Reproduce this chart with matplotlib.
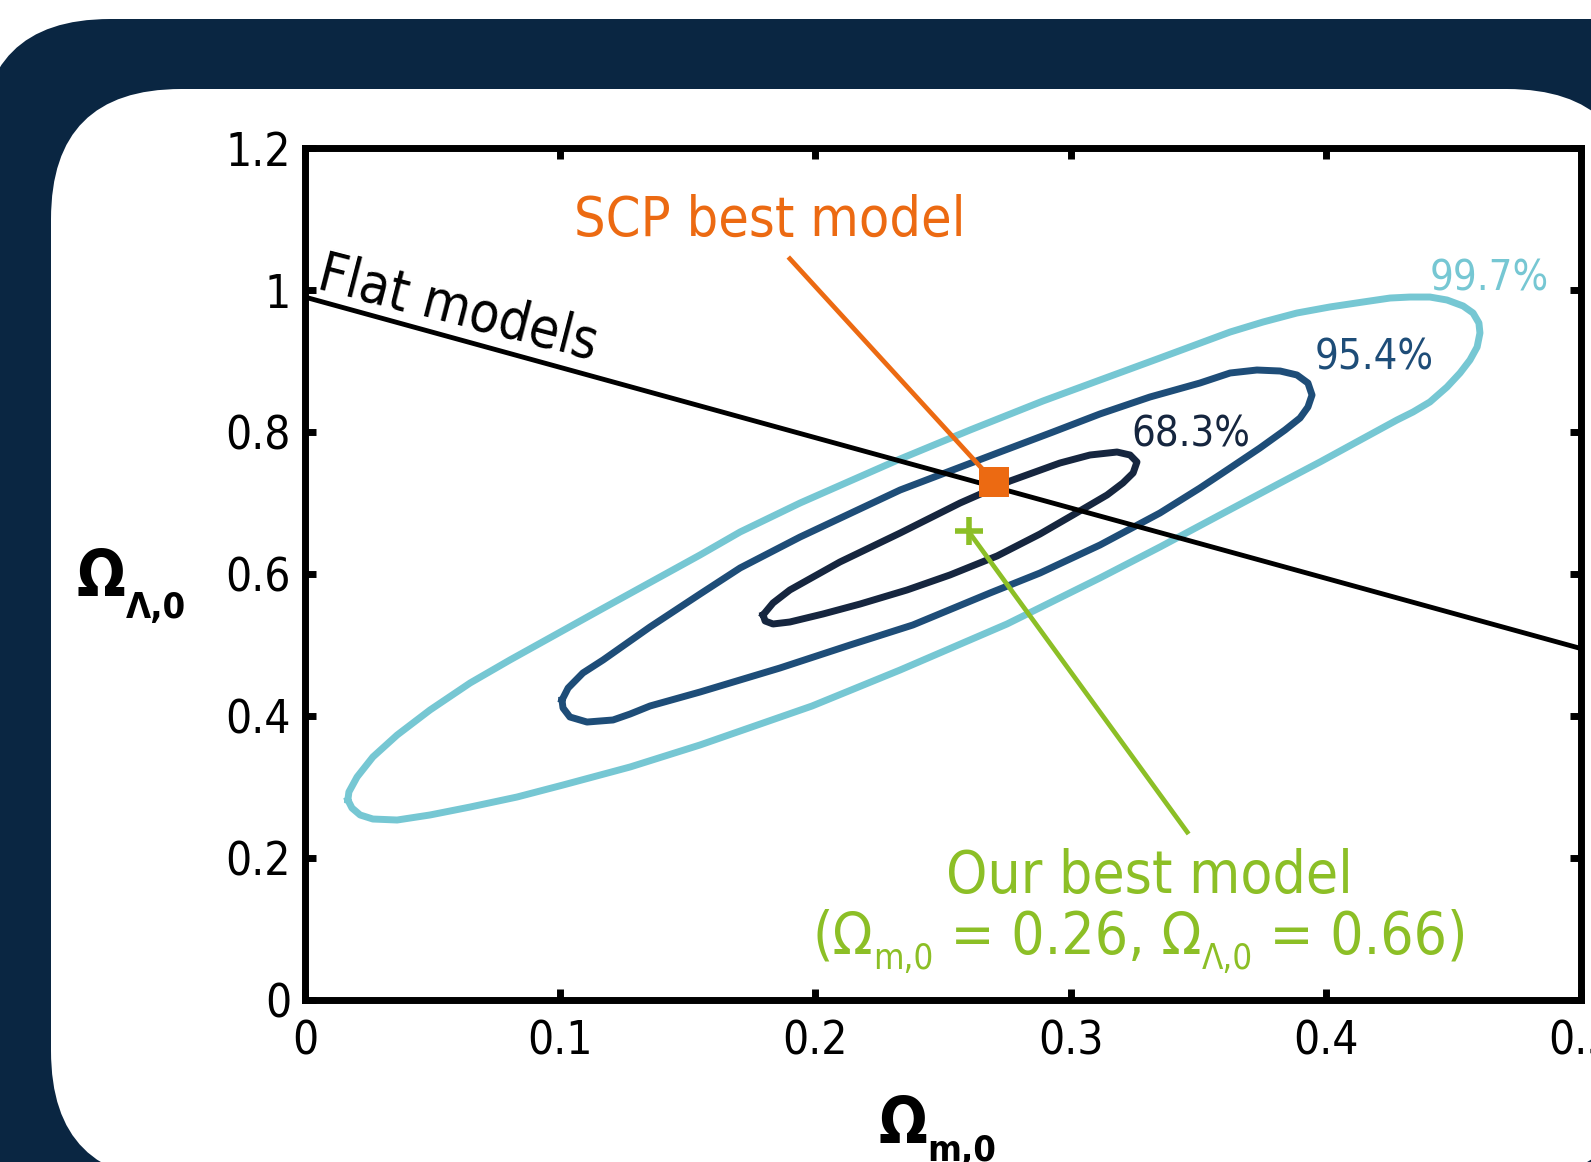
import os
import matplotlib
matplotlib.use('Agg')
import matplotlib.pyplot as plt
from matplotlib import font_manager as fm
from matplotlib.patches import FancyBboxPatch
from matplotlib.transforms import IdentityTransform

# confidence contours in the (Omega_m,0 , Omega_Lambda,0) plane
c683_m = [0.1795, 0.1834, 0.1900, 0.2096, 0.2332, 0.2567, 0.2763, 0.2958, 0.3076,
          0.3182, 0.3233, 0.3260, 0.3245, 0.3205, 0.3143, 0.3009, 0.2880, 0.2712,
          0.2527, 0.2359, 0.2175, 0.2030, 0.1900, 0.1834, 0.1803]
c683_l = [0.5423, 0.5592, 0.5775, 0.6169, 0.6577, 0.7000, 0.7310, 0.7563, 0.7676,
          0.7718, 0.7676, 0.7577, 0.7423, 0.7282, 0.7113, 0.6831, 0.6563, 0.6254,
          0.5986, 0.5775, 0.5577, 0.5437, 0.5324, 0.5296, 0.5338]

c954_m = [0.1007, 0.1031, 0.1089, 0.1168, 0.1352, 0.1548, 0.1705, 0.1940, 0.2332,
          0.2723, 0.2931, 0.3115, 0.3311, 0.3507, 0.3625, 0.3730, 0.3821, 0.3887,
          0.3930, 0.3946, 0.3930, 0.3899, 0.3840, 0.3742, 0.3625, 0.3507, 0.3350,
          0.3115, 0.2880, 0.2684, 0.2382, 0.2136, 0.1861, 0.1548, 0.1352, 0.1274,
          0.1207, 0.1105, 0.1038, 0.1011]
c954_l = [0.4225, 0.4394, 0.4606, 0.4789, 0.5254, 0.5718, 0.6085, 0.6521, 0.7183,
          0.7718, 0.8000, 0.8254, 0.8493, 0.8690, 0.8831, 0.8873, 0.8859, 0.8803,
          0.8690, 0.8521, 0.8352, 0.8197, 0.8028, 0.7775, 0.7493, 0.7211, 0.6859,
          0.6408, 0.6014, 0.5732, 0.5282, 0.5000, 0.4676, 0.4338, 0.4141, 0.4028,
          0.3944, 0.3915, 0.3986, 0.4113]

c997_m = [0.0168, 0.0172, 0.0204, 0.0266, 0.0361, 0.0490, 0.0647, 0.0803, 0.1156,
          0.1548, 0.1705, 0.1940, 0.2332, 0.2606, 0.2892, 0.3115, 0.3350, 0.3625,
          0.3754, 0.3887, 0.4016, 0.4146, 0.4252, 0.4330, 0.4408, 0.4475, 0.4538,
          0.4577, 0.4600, 0.4604, 0.4593, 0.4565, 0.4526, 0.4475, 0.4408, 0.4342,
          0.4279, 0.4135, 0.3977, 0.3821, 0.3585, 0.3350, 0.3115, 0.2751, 0.2332,
          0.1987, 0.1548, 0.1274, 0.1011, 0.0831, 0.0647, 0.0490, 0.0361, 0.0266,
          0.0216, 0.0184]
c997_l = [0.2817, 0.2930, 0.3141, 0.3423, 0.3732, 0.4085, 0.4465, 0.4789, 0.5493,
          0.6268, 0.6592, 0.7000, 0.7620, 0.8028, 0.8437, 0.8732, 0.9042, 0.9408,
          0.9549, 0.9676, 0.9761, 0.9831, 0.9887, 0.9901, 0.9901, 0.9859, 0.9775,
          0.9676, 0.9535, 0.9394, 0.9197, 0.9014, 0.8831, 0.8634, 0.8423, 0.8282,
          0.8169, 0.7887, 0.7577, 0.7282, 0.6831, 0.6380, 0.5944, 0.5296, 0.4648,
          0.4141, 0.3592, 0.3282, 0.3028, 0.2859, 0.2718, 0.2606, 0.2535, 0.2549,
          0.2606, 0.2704]

# flat universe line and best-fit points
flat_m = [0.0, 0.5]
flat_l = [0.99, 0.495]
scp_m, scp_l = 0.27, 0.73
our_m, our_l = 0.26, 0.66

x_ticks = [0, 0.1, 0.2, 0.3, 0.4, 0.5]
x_labels = ['0', '0.1', '0.2', '0.3', '0.4', '0.5']
y_ticks = [0, 0.2, 0.4, 0.6, 0.8, 1.0, 1.2]
y_labels = ['0', '0.2', '0.4', '0.6', '0.8', '1', '1.2']

NAVY = '#0a2642'
C683 = '#16263f'
C954 = '#1e4d78'
C997 = '#76c7d3'
ORANGE = '#ec6a12'
GREEN = '#8cbf26'

# use the condensed DejaVu cut when it is installed
cond = {}
for f in fm.fontManager.ttflist:
    base = os.path.basename(f.fname)
    if base == 'DejaVuSansCondensed.ttf':
        cond['normal'] = f.fname
    elif base == 'DejaVuSansCondensed-Bold.ttf':
        cond['bold'] = f.fname


def fp(size, weight='normal'):
    if weight in cond:
        return fm.FontProperties(fname=cond[weight], size=size)
    return fm.FontProperties(family='DejaVu Sans', weight=weight, size=size)


W, H = 1591, 1162
fig = plt.figure(figsize=(W / 100, H / 100), dpi=100)
fig.patch.set_facecolor('white')

# navy frame with a rounded white panel
frame = FancyBboxPatch((-20, -300), 2000, H - 19 + 300,
                       boxstyle='round,pad=0,rounding_size=130',
                       transform=IdentityTransform(), facecolor=NAVY,
                       edgecolor='none', zorder=-20)
panel = FancyBboxPatch((51, H - 1181), 1586, 1092,
                       boxstyle='round,pad=0,rounding_size=130',
                       transform=IdentityTransform(), facecolor='white',
                       edgecolor='none', zorder=-10)
fig.add_artist(frame)
fig.add_artist(panel)

ax = fig.add_axes([305 / W, 162 / H, 1276 / W, 852 / H])
ax.set_xlim(0, 0.5)
ax.set_ylim(0, 1.2)

for m, l, c in [(c997_m, c997_l, C997), (c954_m, c954_l, C954), (c683_m, c683_l, C683)]:
    ax.plot(m + m[:1], l + l[:1], color=c, lw=5, solid_joinstyle='round', zorder=2)

ax.plot(flat_m, flat_l, color='black', lw=3.5, zorder=3)

# pointers to the two best models
ax.plot([0.19, scp_m], [1.044, scp_l], color=ORANGE, lw=3.4, zorder=4)
ax.plot([our_m, 0.3457], [our_l, 0.2365], color=GREEN, lw=3.4, zorder=4)
ax.plot(scp_m, scp_l, 's', ms=21, color=ORANGE, mew=0, zorder=5)
ax.plot(our_m, our_l, '+', ms=19.5, color=GREEN, mew=4, zorder=5)

ax.set_xticks(x_ticks)
ax.set_xticklabels(x_labels, fontproperties=fp(33))
ax.set_yticks(y_ticks)
ax.set_yticklabels(y_labels, fontproperties=fp(33))
ax.tick_params(direction='in', length=8, width=5, top=True, right=True)
ax.tick_params(axis='x', pad=14)
ax.tick_params(axis='y', pad=10)
for sp in ax.spines.values():
    sp.set_linewidth(5)

ax.text(0.464, 1.0, '99.7%', color=C997, ha='center', va='baseline', fontproperties=fp(30))
ax.text(0.419, 0.888, '95.4%', color=C954, ha='center', va='baseline', fontproperties=fp(30))
ax.text(0.347, 0.780, '68.3%', color=C683, ha='center', va='baseline', fontproperties=fp(30))

ax.text(0.004, 1.003, 'Flat models', rotation=-14.5, rotation_mode='anchor',
        ha='left', va='baseline', fontproperties=fp(39.5))
ax.text(0.182, 1.077, 'SCP best model', color=ORANGE, ha='center', va='baseline',
        fontproperties=fp(40))
ax.text(0.331, 0.151, 'Our best model', color=GREEN, ha='center', va='baseline',
        fontproperties=fp(42))


def chain_text(x, y, parts, coords, color, weight='normal'):
    # lay out pieces left to right, subscripts dropped below the baseline
    prev = None
    for s, size, drop in parts:
        xy, xyc = ((x, y), coords) if prev is None else ((1, y), (prev, coords))
        prev = ax.annotate(s, xy=xy, xycoords=xyc, xytext=(0, -drop),
                           textcoords='offset points', color=color,
                           fontproperties=fp(size, weight), ha='left',
                           va='baseline', annotation_clip=False)


chain_text(0.199, 0.065,
           [('(Ω', 42, 0), ('m,0', 25, 11), (' = 0.26, Ω', 42, 0),
            ('Λ,0', 25, 11), (' = 0.66)', 42, 0)],
           'data', GREEN)

# axis labels
chain_text(77, H - 596, [('Ω', 46, 0), ('Λ,0', 26, 16)], 'figure pixels', 'black', 'bold')
chain_text(878, H - 1143, [('Ω', 46, 0), ('m,0', 26, 13)], 'figure pixels', 'black', 'bold')

fig.savefig('out.png', dpi=100)
